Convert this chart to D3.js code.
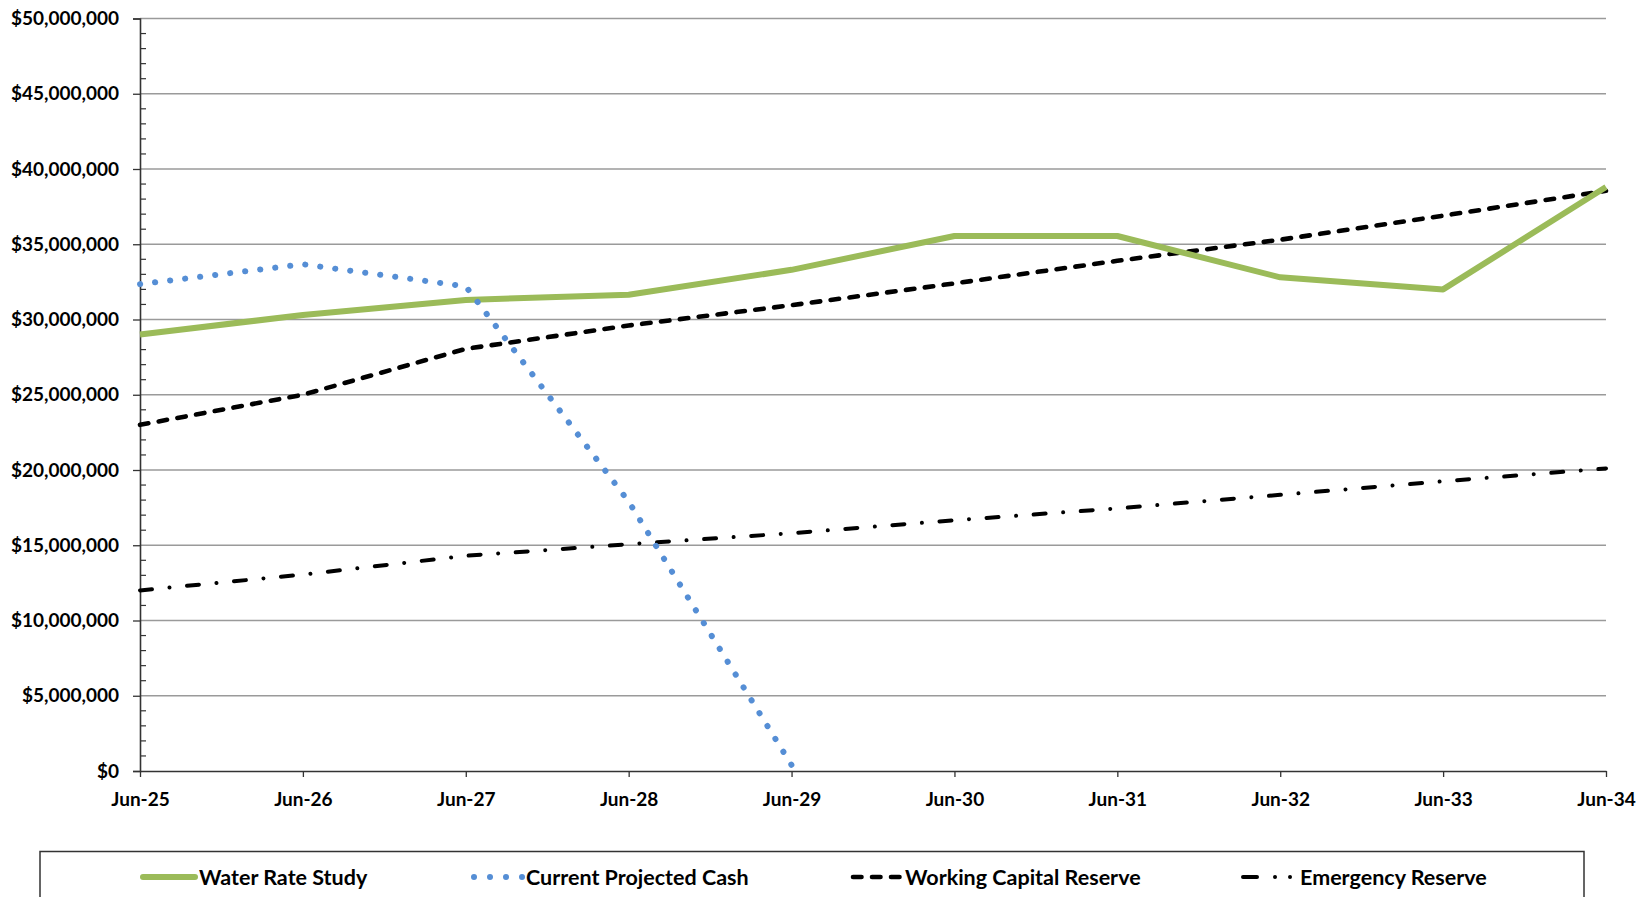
<!DOCTYPE html>
<html>
<head>
<meta charset="utf-8">
<script src="https://cdn.jsdelivr.net/npm/d3@7"></script>
<style>
  html, body { margin: 0; padding: 0; background: #ffffff; }
  svg { display: block; }
  text { font-family: Lato, "Liberation Sans", Arial, sans-serif; font-weight: 700; fill: #000; }
</style>
</head>
<body>
<svg id="chart" width="1638" height="897"></svg>
<script>
// Fiscal year-end labels
const categories = ["Jun-25", "Jun-26", "Jun-27", "Jun-28", "Jun-29", "Jun-30", "Jun-31", "Jun-32", "Jun-33", "Jun-34"];

// Cash balance series (dollars)
const waterRateStudy = [29000000, 30300000, 31300000, 31650000, 33300000, 35550000, 35550000, 32800000, 32000000, 38800000];
const currentProjectedCash = [32350000, 33670000, 32200000, 17900000, 400000, null, null, null, null, null];
const workingCapitalReserve = [23000000, 25000000, 28050000, 29600000, 30950000, 32400000, 33900000, 35300000, 36900000, 38550000];
const emergencyReserve = [12000000, 13050000, 14300000, 15070000, 15800000, 16660000, 17450000, 18350000, 19250000, 20100000];

// Y axis ticks
const yTicks = [0, 5000000, 10000000, 15000000, 20000000, 25000000, 30000000, 35000000, 40000000, 45000000, 50000000];
const yMinorTicks = d3.range(0, 50000001, 1000000);

const series = [
  { name: "Water Rate Study", values: waterRateStudy, color: "#9BBB59", width: 6, dash: null, cap: "butt" },
  { name: "Current Projected Cash", values: currentProjectedCash, color: "#558ED5", width: 6, dash: "dots", cap: "round" },
  { name: "Working Capital Reserve", values: workingCapitalReserve, color: "#000000", width: 4.6, dash: "8.5 10.5", cap: "round" },
  { name: "Emergency Reserve", values: emergencyReserve, color: "#000000", width: 4, dash: "12 17.6 0.01 17.6", cap: "round" }
];

const svg = d3.select("#chart");

const plotLeft = 140, plotRight = 1606, plotTop = 18.5, plotBottom = 771;
const fontFamily = "Lato, 'Liberation Sans', Arial, sans-serif";
const dotSpacing = 15.2;

const x = d3.scalePoint().domain(categories).range([plotLeft, plotRight]);
const y = d3.scaleLinear().domain([0, 50000000]).range([plotBottom, plotTop]);

// Horizontal gridlines
svg.append("g")
  .selectAll("line")
  .data(yTicks.filter(d => d > 0))
  .join("line")
  .attr("x1", plotLeft).attr("x2", plotRight)
  .attr("y1", d => y(d)).attr("y2", d => y(d))
  .attr("stroke", "#9a9a9a")
  .attr("stroke-width", 1.3);

// Minor ticks on the inside of the value axis
svg.append("g")
  .selectAll("line")
  .data(yMinorTicks.filter(d => d % 5000000 !== 0))
  .join("line")
  .attr("x1", plotLeft).attr("x2", plotLeft + 6)
  .attr("y1", d => y(d)).attr("y2", d => y(d))
  .attr("stroke", "#333")
  .attr("stroke-width", 1.2);

// Value axis
const yAxis = d3.axisLeft(y)
  .tickValues(yTicks)
  .tickSize(7)
  .tickPadding(14)
  .tickFormat(d => "$" + d3.format(",")(d));

const gy = svg.append("g")
  .attr("transform", `translate(${plotLeft},0)`)
  .call(yAxis);
gy.select(".domain").attr("stroke", "#333").attr("stroke-width", 1.6);
gy.selectAll(".tick line").attr("stroke", "#333").attr("stroke-width", 1.3);
gy.selectAll(".tick text")
  .attr("font-size", 19)
  .attr("font-family", fontFamily)
  .attr("font-weight", 700)
  .attr("fill", "#000");

// Category axis
const xAxis = d3.axisBottom(x).tickSize(6).tickSizeOuter(0).tickPadding(16);
const gx = svg.append("g")
  .attr("transform", `translate(0,${plotBottom})`)
  .call(xAxis);
gx.select(".domain").attr("stroke", "#333").attr("stroke-width", 1.6);
gx.selectAll(".tick line").attr("stroke", "#333").attr("stroke-width", 1.3);
gx.selectAll(".tick text")
  .attr("font-size", 19)
  .attr("font-family", fontFamily)
  .attr("font-weight", 700)
  .attr("fill", "#000");

// Series lines (reserves first, cash and study on top)
const line = d3.line()
  .defined(d => d != null)
  .x((d, j) => x(categories[j]))
  .y(d => y(d));

[3, 2, 0, 1].forEach(i => {
  const s = series[i];
  const path = svg.append("path")
    .datum(s.values)
    .attr("d", line)
    .attr("fill", "none")
    .attr("stroke", s.color)
    .attr("stroke-width", s.width)
    .attr("stroke-linecap", s.cap)
    .attr("stroke-linejoin", "round");
  if (s.dash === "dots") {
    // round dots spaced evenly so one sits on each end of the line
    const len = path.node().getTotalLength();
    const n = Math.round(len / dotSpacing);
    const period = (len - 0.5) / n;
    path.attr("stroke-dasharray", `0.2 ${period - 0.2}`);
  } else if (s.dash) {
    path.attr("stroke-dasharray", s.dash);
  }
});

// Legend
const legend = svg.append("g");
legend.append("rect")
  .attr("x", 40).attr("y", 851.5)
  .attr("width", 1544).attr("height", 80)
  .attr("fill", "#fff")
  .attr("stroke", "#333")
  .attr("stroke-width", 1.5);

const legendItems = [
  { s: series[0], x0: 143, x1: 195, dash: null },
  { s: series[1], x0: 474, x1: 522, dash: "0.01 15.99" },
  { s: series[2], x0: 853, x1: 901, dash: "8.5 10.5" },
  { s: series[3], x0: 1243, x1: 1296, dash: "14 18 0.01 15 0.01 40" }
];
const legendY = 877;
legendItems.forEach(it => {
  legend.append("line")
    .attr("x1", it.x0).attr("x2", it.x1)
    .attr("y1", legendY).attr("y2", legendY)
    .attr("stroke", it.s.color)
    .attr("stroke-width", it.s.width)
    .attr("stroke-linecap", it.s.cap === "butt" ? "round" : it.s.cap)
    .attr("stroke-dasharray", it.dash);
  legend.append("text")
    .attr("x", it.x1 + 4)
    .attr("y", legendY)
    .attr("dy", "0.35em")
    .attr("font-size", 21.5)
    .text(it.s.name);
});
</script>
</body>
</html>
